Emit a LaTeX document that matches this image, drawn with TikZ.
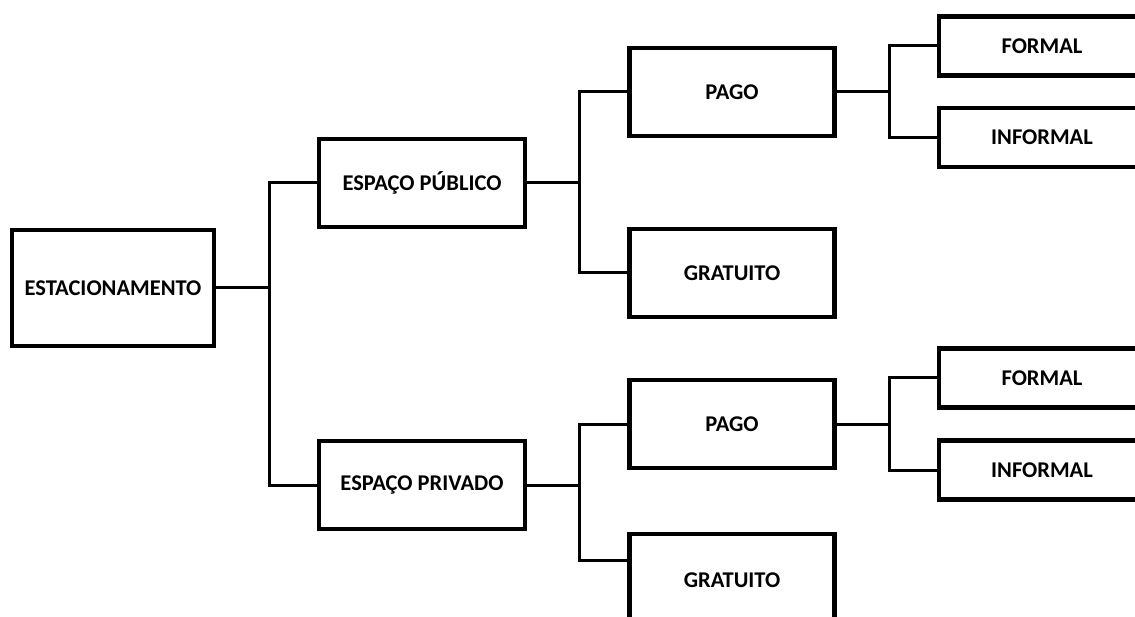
\documentclass[tikz,border=0pt]{standalone}
\usepackage{fontspec}
\setmainfont{Carlito}
\usetikzlibrary{positioning}

\begin{document}
\begin{tikzpicture}[
    x=1pt,y=-1pt,
    box/.style={rectangle,draw,line width=4.5pt,inner sep=0pt,minimum width=206pt,minimum height=88pt,font=\fontsize{22.5}{27}\selectfont\bfseries},
    leaf/.style={box,minimum height=59pt},
    link/.style={line width=3pt}
]
\useasboundingbox (0,0) rectangle (1135,617);
\clip (0,0) rectangle (1135,617);

% Root
\node[box,minimum width=202pt,minimum height=116pt] (estac) at (113,288) {ESTACIONAMENTO};

% Space
\node[box] (publico) at (422,183) {ESPAÇO PÚBLICO};
\node[box] (privado) at (422,485) {ESPAÇO PRIVADO};

% Charge
\node[box,minimum width=205pt] (pago1) at (732,92) {PAGO};
\node[box,minimum width=205pt] (grat1) at (732,273) {GRATUITO};
\node[box,minimum width=205pt] (pago2) at (732,424) {PAGO};
\node[box,minimum width=205pt,minimum height=92pt] (grat2) at (732,580) {GRATUITO};

% Type
\node[leaf] (formal1) at (1042,46) {FORMAL};
\node[leaf] (informal1) at (1042,137.5) {INFORMAL};
\node[leaf] (formal2) at (1042,378) {FORMAL};
\node[leaf] (informal2) at (1042,470) {INFORMAL};

% Junctions
\coordinate (j1) at (269,288);
\coordinate (j2) at (579,183);
\coordinate (j3) at (579,485);
\coordinate (j4) at (889,92);
\coordinate (j5) at (889,424);

% Links
\draw[link] (estac.east) -- (j1) |- (publico.west);
\draw[link] (j1) |- (privado.west);
\draw[link] (publico.east) -- (j2) |- (pago1.west);
\draw[link] (j2) |- (grat1.west);
\draw[link] (privado.east) -- (j3) |- (pago2.west);
\draw[link] (j3) |- ([yshift=20pt]grat2.west);
\draw[link] (pago1.east) -- (j4) |- (formal1.west);
\draw[link] (j4) |- (informal1.west);
\draw[link] (pago2.east) -- (j5) |- (formal2.west);
\draw[link] (j5) |- (informal2.west);
\end{tikzpicture}
\end{document}
